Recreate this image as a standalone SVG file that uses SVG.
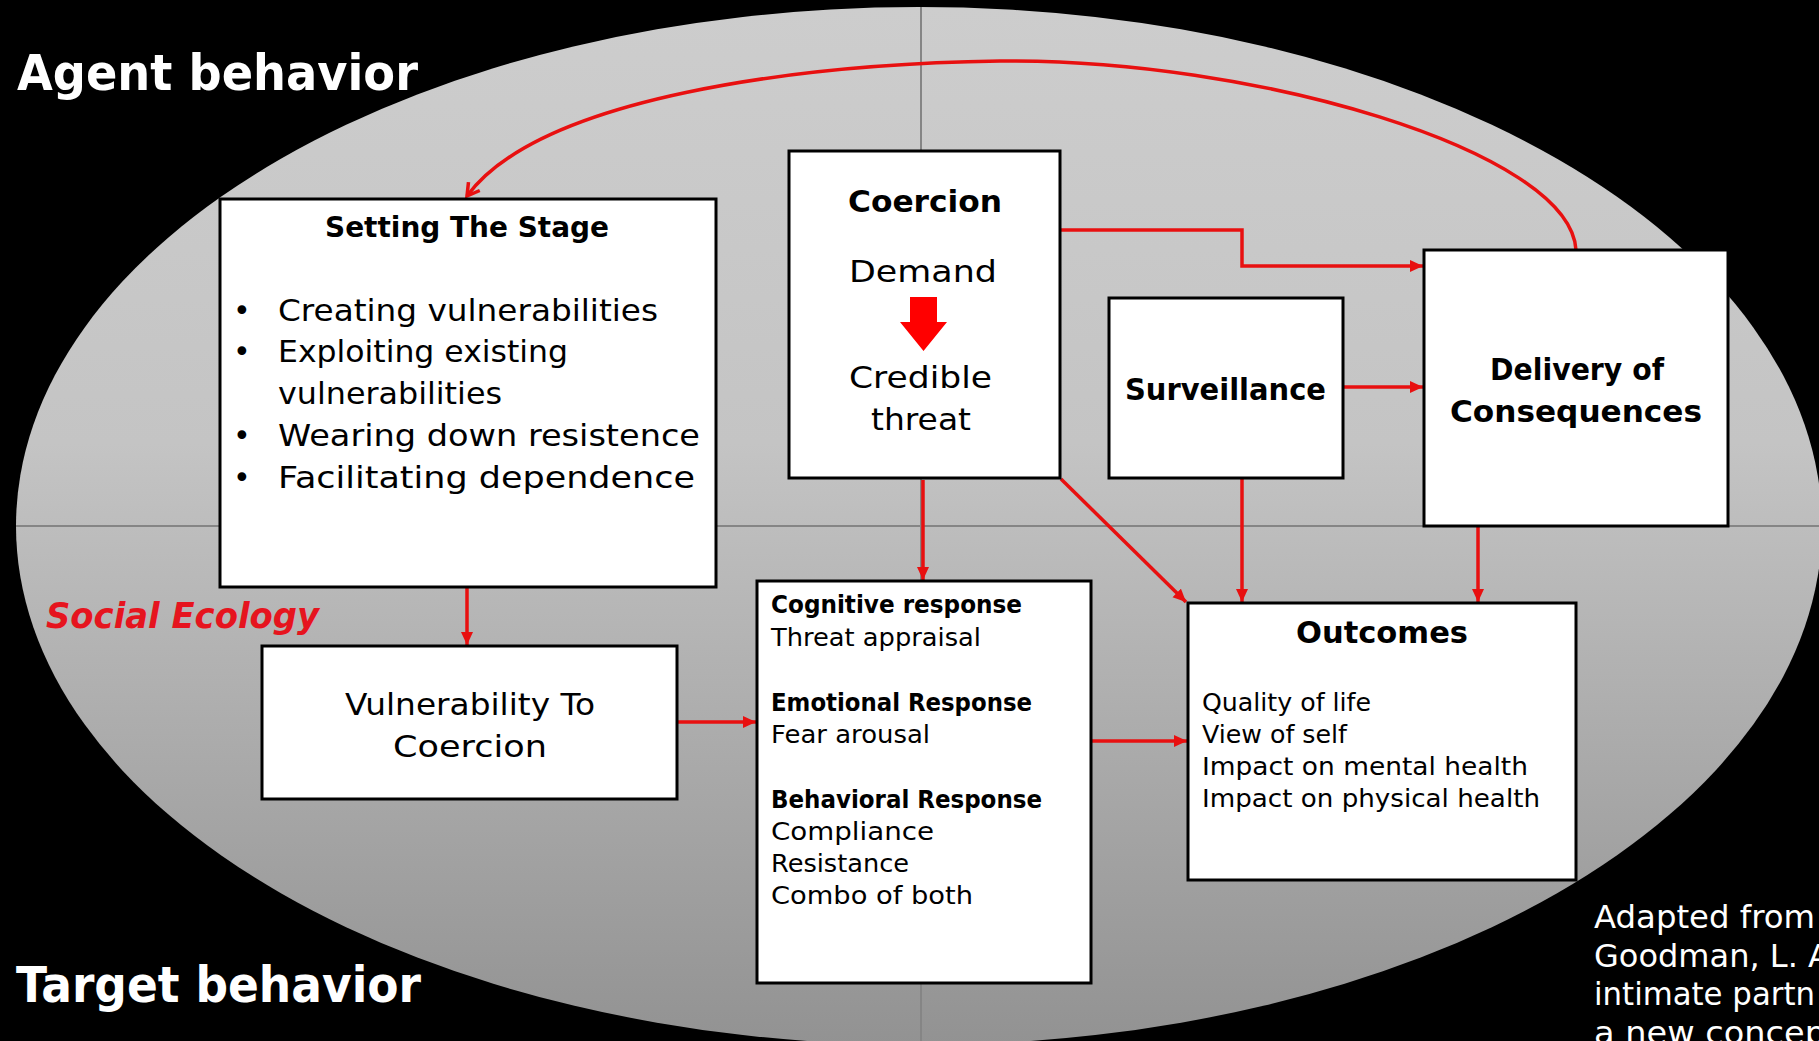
<svg xmlns="http://www.w3.org/2000/svg" width="1819" height="1041" viewBox="0 0 1819 1041">
<defs>
<linearGradient id="bg" gradientUnits="userSpaceOnUse" x1="0" y1="7" x2="0" y2="1045">
<stop offset="0" stop-color="#cdcdcd"/>
<stop offset="0.42" stop-color="#c4c4c4"/>
<stop offset="1" stop-color="#929292"/>
</linearGradient>
<clipPath id="ell"><ellipse cx="919" cy="526" rx="903" ry="519"/></clipPath>
<marker id="tri" markerUnits="userSpaceOnUse" markerWidth="15" markerHeight="13" refX="13" refY="6" orient="auto">
<path d="M0,0 L13,6 L0,12 z" fill="#e81010"/>
</marker>
<marker id="vee" markerUnits="userSpaceOnUse" markerWidth="18" markerHeight="18" refX="13" refY="9" orient="auto">
<path d="M1,2 L13,9 L1,16" fill="none" stroke="#e81010" stroke-width="3.5"/>
</marker>
</defs>
<style>
.box{fill:#ffffff;stroke:#000000;stroke-width:3}
.t{font-family:"DejaVu Sans","Liberation Sans",sans-serif;fill:#000000}
.b{font-weight:bold}
.w{fill:#ffffff}
.c{stroke:#e81010;stroke-width:3.5;fill:none}
</style>
<rect x="0" y="0" width="1819" height="1041" fill="#000000"/>
<ellipse cx="919" cy="526" rx="903" ry="519" fill="url(#bg)"/>
<g clip-path="url(#ell)" stroke="#858585" stroke-width="2">
<line x1="921" y1="0" x2="921" y2="1041"/>
<line x1="0" y1="526" x2="1819" y2="526"/>
</g>

<text class="t b w" x="17" y="90" font-size="50" textLength="401" lengthAdjust="spacingAndGlyphs">Agent behavior</text>
<text class="t b w" x="16" y="1002" font-size="50" textLength="405" lengthAdjust="spacingAndGlyphs">Target behavior</text>
<text class="t b" x="46" y="628" font-size="35" font-style="italic" style="fill:#e6141e" textLength="273" lengthAdjust="spacingAndGlyphs">Social Ecology</text>

<g id="connectors">
<path class="c" d="M1576,250 C1570,150 1250,58 1000,61 C800,64 540,97 467,196" marker-end="url(#vee)"/>
<path class="c" d="M1060,230 L1242,230 L1242,266 L1423,266" marker-end="url(#tri)"/>
<path class="c" d="M1343,387 L1423,387" marker-end="url(#tri)"/>
<path class="c" d="M467,587 L467,645" marker-end="url(#tri)"/>
<path class="c" d="M677,722 L756,722" marker-end="url(#tri)"/>
<path class="c" d="M923,480 L923,580" marker-end="url(#tri)"/>
<path class="c" d="M1061,479 L1186,602" marker-end="url(#tri)"/>
<path class="c" d="M1242,478 L1242,602" marker-end="url(#tri)"/>
<path class="c" d="M1478,526 L1478,602" marker-end="url(#tri)"/>
<path class="c" d="M1091,741 L1187,741" marker-end="url(#tri)"/>
</g>

<g id="setting-the-stage">
<rect class="box" x="220" y="199" width="496" height="388"/>
<text class="t b" x="325" y="237" font-size="28" textLength="284" lengthAdjust="spacingAndGlyphs">Setting The Stage</text>
<g class="t" font-size="30">
<text x="233" y="321">•</text>
<text x="233" y="362">•</text>
<text x="233" y="446">•</text>
<text x="233" y="488">•</text>
<text x="278" y="321" textLength="380" lengthAdjust="spacingAndGlyphs">Creating vulnerabilities</text>
<text x="278" y="362" textLength="290" lengthAdjust="spacingAndGlyphs">Exploiting existing</text>
<text x="278" y="404" textLength="224" lengthAdjust="spacingAndGlyphs">vulnerabilities</text>
<text x="278" y="446" textLength="422" lengthAdjust="spacingAndGlyphs">Wearing down resistence</text>
<text x="278" y="488" textLength="417" lengthAdjust="spacingAndGlyphs">Facilitating dependence</text>
</g>
</g>

<g id="coercion">
<rect class="box" x="789" y="151" width="271" height="327"/>
<text class="t b" x="848" y="212" font-size="30" textLength="154" lengthAdjust="spacingAndGlyphs">Coercion</text>
<text class="t" x="849" y="282" font-size="31" textLength="148" lengthAdjust="spacingAndGlyphs">Demand</text>
<path d="M910,297 L937,297 L937,322 L947,322 L923.5,351 L900,322 L910,322 z" fill="#ff0000"/>
<text class="t" x="849" y="388" font-size="31" textLength="143" lengthAdjust="spacingAndGlyphs">Credible</text>
<text class="t" x="871" y="430" font-size="31" textLength="100" lengthAdjust="spacingAndGlyphs">threat</text>
</g>

<g id="surveillance">
<rect class="box" x="1109" y="298" width="234" height="180"/>
<text class="t b" x="1125" y="400" font-size="30" textLength="201" lengthAdjust="spacingAndGlyphs">Surveillance</text>
</g>

<g id="delivery-of-consequences">
<rect class="box" x="1424" y="250" width="304" height="276"/>
<text class="t b" x="1490" y="380" font-size="30" textLength="174" lengthAdjust="spacingAndGlyphs">Delivery of</text>
<text class="t b" x="1450" y="422" font-size="30" textLength="252" lengthAdjust="spacingAndGlyphs">Consequences</text>
</g>

<g id="vulnerability">
<rect class="box" x="262" y="646" width="415" height="153"/>
<text class="t" x="345" y="715" font-size="31" textLength="250" lengthAdjust="spacingAndGlyphs">Vulnerability To</text>
<text class="t" x="393" y="757" font-size="31" textLength="154" lengthAdjust="spacingAndGlyphs">Coercion</text>
</g>

<g id="responses">
<rect class="box" x="757" y="581" width="334" height="402"/>
<g class="t" font-size="24">
<text class="b" x="771" y="613" textLength="251" lengthAdjust="spacingAndGlyphs">Cognitive response</text>
<text x="771" y="646" textLength="210" lengthAdjust="spacingAndGlyphs">Threat appraisal</text>
<text class="b" x="771" y="711" textLength="261" lengthAdjust="spacingAndGlyphs">Emotional Response</text>
<text x="771" y="743" textLength="159" lengthAdjust="spacingAndGlyphs">Fear arousal</text>
<text class="b" x="771" y="808" textLength="271" lengthAdjust="spacingAndGlyphs">Behavioral Response</text>
<text x="771" y="840" textLength="163" lengthAdjust="spacingAndGlyphs">Compliance</text>
<text x="771" y="872" textLength="138" lengthAdjust="spacingAndGlyphs">Resistance</text>
<text x="771" y="904" textLength="202" lengthAdjust="spacingAndGlyphs">Combo of both</text>
</g>
</g>

<g id="outcomes">
<rect class="box" x="1188" y="603" width="388" height="277"/>
<text class="t b" x="1296" y="643" font-size="30" textLength="172" lengthAdjust="spacingAndGlyphs">Outcomes</text>
<g class="t" font-size="25">
<text x="1202" y="711" textLength="169" lengthAdjust="spacingAndGlyphs">Quality of life</text>
<text x="1202" y="743" textLength="145" lengthAdjust="spacingAndGlyphs">View of self</text>
<text x="1202" y="775" textLength="326" lengthAdjust="spacingAndGlyphs">Impact on mental health</text>
<text x="1202" y="807" textLength="338" lengthAdjust="spacingAndGlyphs">Impact on physical health</text>
</g>
</g>

<g class="t w" font-size="32">
<text x="1594" y="928" textLength="221" lengthAdjust="spacingAndGlyphs">Adapted from</text>
<text x="1594" y="967" textLength="236" lengthAdjust="spacingAndGlyphs">Goodman, L. A</text>
<text x="1594" y="1005" textLength="221" lengthAdjust="spacingAndGlyphs">intimate partn</text>
<text x="1594" y="1044" textLength="232" lengthAdjust="spacingAndGlyphs">a new concep</text>
</g>
</svg>
